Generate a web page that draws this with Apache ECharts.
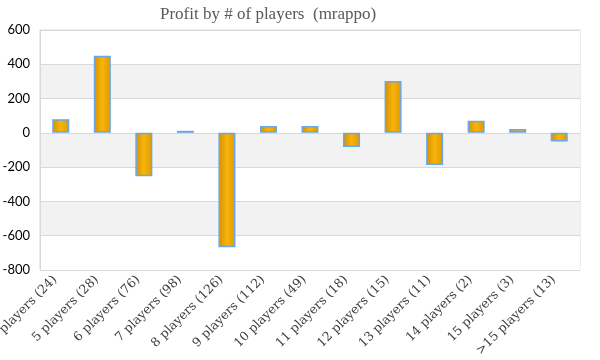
<!DOCTYPE html>
<html>
<head>
<meta charset="utf-8">
<script src="https://cdn.jsdelivr.net/npm/echarts@6/dist/echarts.min.js"></script>
<style>html,body{margin:0;padding:0;background:#fff}#c{width:600px;height:360px}</style>
</head>
<body>
<div id="c"></div>
<script>
var titleText = 'Profit by # of players  (mrappo)';
var categories = ['3 players (24)', '5 players (28)', '6 players (76)', '7 players (98)', '8 players (126)', '9 players (112)', '10 players (49)', '11 players (18)', '12 players (15)', '13 players (11)', '14 players (2)', '15 players (3)', '>15 players (13)'];
var profit = [80, 450, -253, 12, -667, 40, 40, -83, 303, -187, 70, 23, -51];
var yTicks = [-800, -600, -400, -200, 0, 200, 400, 600];

var chart = echarts.init(document.getElementById('c'));
chart.setOption({
  animation: false,
  backgroundColor: '#fff',
  title: {
    text: titleText, left: 155, top: 1,
    textStyle: { fontFamily: 'Liberation Serif', fontSize: 17, fontWeight: 'normal', color: '#595959' }
  },
  grid: { left: 40, right: 20, top: 30, bottom: 90, outerBoundsMode: 'none', containLabel: false, show: true, borderColor: '#d9d9d9', borderWidth: 1, backgroundColor: 'transparent' },
  xAxis: {
    type: 'category', data: categories,
    axisLine: { show: false }, axisTick: { show: false },
    axisLabel: { rotate: 45, interval: 0, fontFamily: '"DejaVu Serif", serif', fontSize: 12.5, color: '#404040', margin: 2, padding: [0, 8, 13, 0] }
  },
  yAxis: {
    type: 'value', min: yTicks[0], max: yTicks[yTicks.length - 1], interval: 200,
    axisLine: { show: true, lineStyle: { color: '#d9d9d9' } }, axisTick: { show: false },
    axisLabel: { fontFamily: 'Lato', fontSize: 13, color: '#000', margin: 10 },
    splitLine: { show: true, lineStyle: { color: '#d9d9d9' } },
    splitArea: { show: true, areaStyle: { color: ['#ffffff', '#f2f2f2'] } }
  },
  series: [{
    type: 'bar', data: profit, barWidth: '41%',
    itemStyle: {
      color: new echarts.graphic.LinearGradient(0, 0, 1, 0, [
        { offset: 0, color: '#d68e00' },
        { offset: 0.5, color: '#f7b50a' },
        { offset: 1, color: '#e09800' }
      ]),
      borderColor: '#6aa7e8', borderWidth: 1.5
    }
  }]
});
</script>
</body>
</html>
